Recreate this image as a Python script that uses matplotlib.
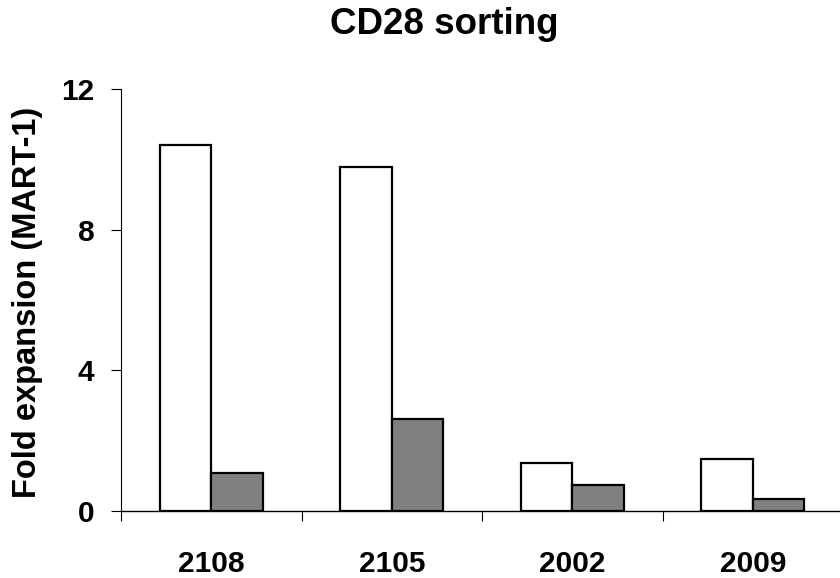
import matplotlib
matplotlib.use("Agg")
import matplotlib.pyplot as plt
import numpy as np

categories = ["2108", "2105", "2002", "2009"]
white_vals = [10.42, 9.79, 1.37, 1.48]
gray_vals = [1.09, 2.62, 0.74, 0.34]
yticks = [0, 4, 8, 12]

plt.rcParams['font.family'] = ['Liberation Sans', 'DejaVu Sans']
plt.rcParams['font.weight'] = 'bold'

fig = plt.figure(figsize=(8.4, 5.78), dpi=100)
ax = fig.add_axes([121/840, 1-511/578, 722/840, (511-89.3)/578])

x = np.arange(len(categories))
w = 0.285
ax.bar(x - w/2, white_vals, w, color='white', edgecolor='black', linewidth=1.6, zorder=3)
ax.bar(x + w/2, gray_vals, w, color='#808080', edgecolor='black', linewidth=1.6, zorder=3)

ax.set_xlim(-0.5, len(categories) - 0.5)
ax.set_ylim(0, 12)
ax.set_yticks(yticks)
ax.set_yticklabels([str(t) for t in yticks], fontsize=21.5, fontweight='bold')
ax.tick_params(axis='y', direction='out', length=7, width=0.8, pad=12)

ax.set_xticks(x)
ax.set_xticklabels(categories, fontsize=21.5, fontweight='bold')
ax.tick_params(axis='x', which='major', length=0, pad=28)
ax.set_xticks(np.arange(-0.5, len(categories) - 0.5, 1.0), minor=True)
ax.tick_params(axis='x', which='minor', direction='out', length=7, width=0.8)

for s in ['top', 'right']:
    ax.spines[s].set_visible(False)
ax.spines['left'].set_linewidth(0.8)
ax.spines['bottom'].set_linewidth(1.0)

fig.text(28/840, 1-302/578, "Fold expansion (MART-1)", rotation=90, fontsize=23.5,
         fontweight='bold', ha='center', va='center')
fig.text(444/840, 1-24/578, "CD28 sorting", fontsize=26.5, fontweight='bold',
         ha='center', va='center')

fig.savefig("out.png", dpi=100)
